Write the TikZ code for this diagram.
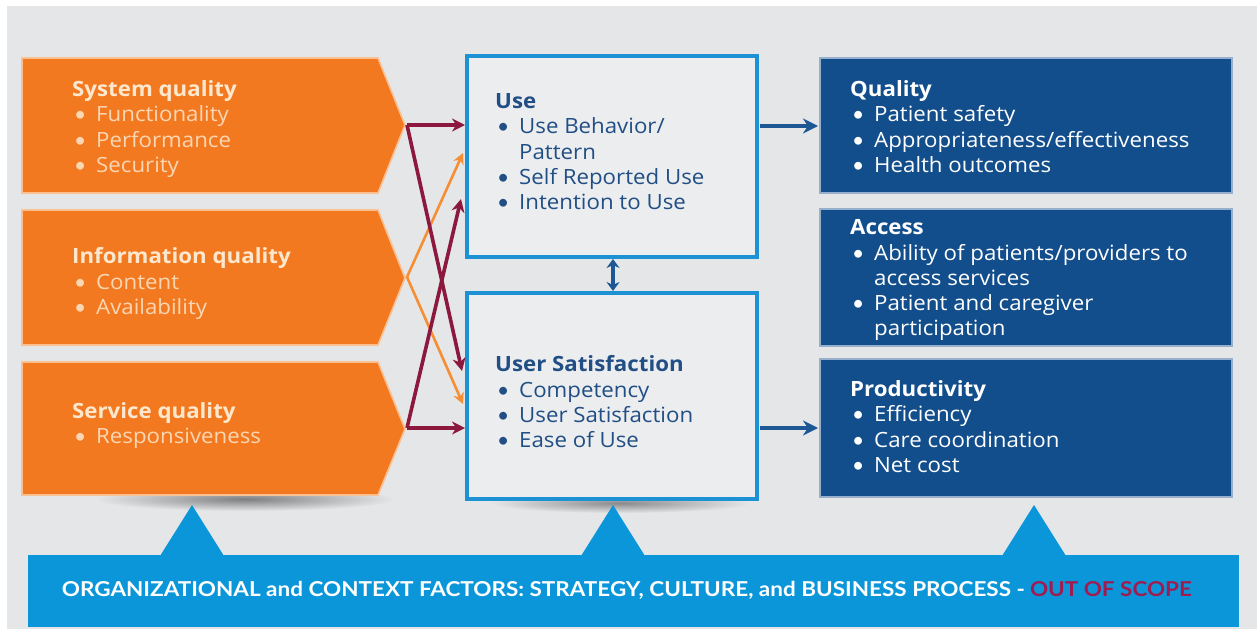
\documentclass[tikz,border=0pt]{standalone}
\usepackage{fontspec}
\setmainfont{Open Sans}[FakeStretch=1.06]
\newfontfamily\bandfont{Lato}
\usetikzlibrary{arrows.meta}
\definecolor{bg}{RGB}{229,230,232}
\definecolor{org}{RGB}{243,121,33}
\definecolor{orgedge}{RGB}{250,192,145}
\definecolor{orghead}{RGB}{253,232,205}
\definecolor{orgtxt}{RGB}{251,214,178}
\definecolor{maroon}{RGB}{140,24,62}
\definecolor{orgarrow}{RGB}{246,142,52}
\definecolor{midblue}{RGB}{28,145,212}
\definecolor{midfill}{RGB}{236,237,239}
\definecolor{midtxt}{RGB}{32,78,133}
\definecolor{dkblue}{RGB}{19,78,140}
\definecolor{dkedge}{RGB}{150,175,205}
\definecolor{arrowblue}{RGB}{30,88,148}
\definecolor{band}{RGB}{12,150,218}
\definecolor{scope}{RGB}{160,28,80}
\newcommand\bul{\makebox[24pt][l]{\hspace{2pt}{\bandfont •}}}
\newcommand\ind{\hspace*{24pt}}
\tikzset{
  txt/.style={anchor=north west, align=left, inner sep=0pt, font=\fontsize{21}{25.3}\selectfont},
  chev/.style={fill=org, draw=orgedge, line width=1.6pt},
  midbox/.style={fill=midfill, draw=midblue, line width=4.5pt},
  dkbox/.style={fill=dkblue, draw=dkedge, line width=2.5pt},
  mar/.style={draw=maroon, line width=3.6pt, -{Stealth[length=13pt,width=13pt]}},
  oar/.style={draw=orgarrow, line width=2.6pt, -{Stealth[length=11pt,width=11pt]}},
  bar/.style={draw=arrowblue, line width=4.5pt, -{Stealth[length=15pt,width=15pt]}},
}
\begin{document}
\begin{tikzpicture}[x=1pt,y=-1pt]
\useasboundingbox (0,0) rectangle (1257,629);
\fill[white] (0,0) rectangle (1257,629);
\fill[bg] (7,6) rectangle (1257,629);
% shadows
\shade[inner color=black!45!bg, outer color=bg] (245,499) ellipse (150 and 12);
\shade[inner color=black!40!bg, outer color=bg] (620,503) ellipse (130 and 10);
% band
\fill[band] (28,555) rectangle (1239,627);
\fill[band] (160,556) -- (192,505) -- (224,556) -- cycle;
\fill[band] (581,556) -- (613,505) -- (645,556) -- cycle;
\fill[band] (1002,556) -- (1034,505) -- (1066,556) -- cycle;
\node[inner sep=0pt, text=white, font=\bandfont\bfseries\fontsize{20.5}{22}\selectfont] (org) at (627,590)
  {\resizebox{1130pt}{\height}{ORGANIZATIONAL and CONTEXT FACTORS: STRATEGY, CULTURE, and BUSINESS PROCESS - \textcolor{scope}{OUT OF SCOPE}}};
% chevrons
\draw[chev] (22,58) -- (378,58) -- (405,125) -- (378,193) -- (22,193) -- cycle;
\draw[chev] (22,210) -- (378,210) -- (405,278) -- (378,345) -- (22,345) -- cycle;
\draw[chev] (22,362) -- (378,362) -- (405,429) -- (378,495) -- (22,495) -- cycle;
\coordinate (sysP) at (407,125);
\coordinate (infP) at (407,277);
\coordinate (serP) at (407,428);
% middle boxes
\draw[midbox] (467,56) rectangle (757,257);
\draw[midbox] (467,293) rectangle (757,499);
\coordinate (useL1) at (465,125);
\coordinate (useL2) at (463,153);
\coordinate (useL3) at (461,199);
\coordinate (satL1) at (462,371);
\coordinate (satL2) at (463,404);
\coordinate (satL3) at (465,428);
\coordinate (useB) at (613,259);
\coordinate (satT) at (613,291);
\coordinate (useR) at (760,126);
\coordinate (satR) at (760,428);
% right boxes
\draw[dkbox] (820,58) rectangle (1232,193);
\draw[dkbox] (820,209) rectangle (1232,346);
\draw[dkbox] (820,359) rectangle (1232,497);
\coordinate (qualL) at (818,126);
\coordinate (prodL) at (818,428);
% arrows
\draw[oar] (infP) -- (useL2);
\draw[oar] (infP) -- (satL2);
\draw[mar] (sysP) -- (useL1);
\draw[mar] (sysP) -- (satL1);
\draw[mar] (serP) -- (useL3);
\draw[mar] (serP) -- (satL3);
\draw[draw=arrowblue, line width=4pt, {Stealth[length=9pt,width=13pt]}-{Stealth[length=9pt,width=13pt]}] (useB) -- (satT);
\draw[bar] (useR) -- (qualL);
\draw[bar] (satR) -- (prodL);
% texts
\node[txt, text=orgtxt] (sysT) at (72,80.5) {\textcolor{orghead}{\textbf{System quality}}\\
  \bul Functionality\\ \bul Performance\\ \bul Security};
\node[txt, text=orgtxt] (infT) at (72,247.5) {\textcolor{orghead}{\textbf{Information quality}}\\
  \bul Content\\ \bul Availability};
\node[txt, text=orgtxt] (serT) at (72,402.5) {\textcolor{orghead}{\textbf{Service quality}}\\
  \bul Responsiveness};
\node[txt, text=midtxt] (useT) at (495,93.5) {\textbf{Use}\\
  \bul Use Behavior/\\ \ind Pattern\\ \bul Self Reported Use\\ \bul Intention to Use};
\node[txt, text=midtxt] (satT2) at (495,355.5) {\textbf{User Satisfaction}\\
  \bul Competency\\ \bul User Satisfaction\\ \bul Ease of Use};
\node[txt, text=white] (qualT) at (850,80.5) {\textbf{Quality}\\
  \bul Patient safety\\ \bul Appropriateness/effectiveness\\ \bul Health outcomes};
\node[txt, text=white] (accT) at (850,219.5) {\textbf{Access}\\
  \bul Ability of patients/providers to\\ \ind access services\\ \bul Patient and caregiver\\ \ind participation};
\node[txt, text=white] (prodT) at (850,380.5) {\textbf{Productivity}\\
  \bul Efficiency\\ \bul Care coordination\\ \bul Net cost};
\end{tikzpicture}
\end{document}
